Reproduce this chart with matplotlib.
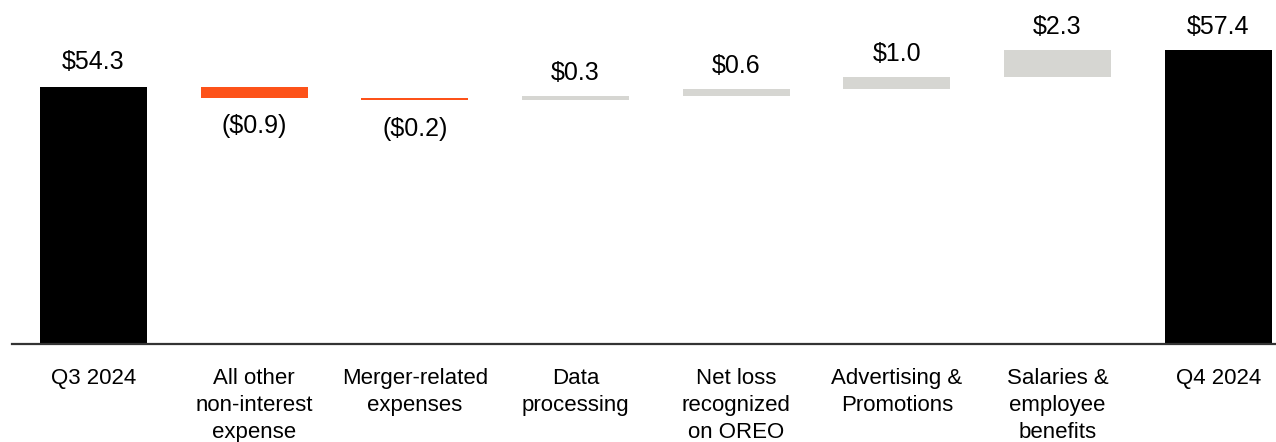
import matplotlib
matplotlib.use("Agg")
import matplotlib.pyplot as plt

plt.rcParams['font.family'] = ['Liberation Sans', 'DejaVu Sans']

categories = ["Q3 2024", "All other\nnon-interest\nexpense", "Merger-related\nexpenses",
              "Data\nprocessing", "Net loss\nrecognized\non OREO", "Advertising &\nPromotions",
              "Salaries &\nemployee\nbenefits", "Q4 2024"]
start_total = 54.3
changes = [-0.9, -0.2, 0.3, 0.6, 1.0, 2.3]
end_total = 57.4

BLACK = "#000000"
ORANGE = "#FD5219"
GRAY = "#D6D6D2"

fig = plt.figure(figsize=(12.76, 4.42), dpi=100)
ax = fig.add_axes([12 / 1276, (442 - 344) / 442, 1 - 12 / 1276, 344 / 442])

ymin, ymax = 32.7, 61.6
w = 0.666

def money(v):
    if v < 0:
        return "(${:.1f})".format(-v)
    return "${:.1f}".format(v)

# totals
ax.bar(0, start_total - ymin, bottom=ymin, width=w, color=BLACK)
ax.annotate(money(start_total), (0, start_total), xytext=(0, 9), textcoords="offset points",
            ha="center", va="bottom", fontsize=18)

level = start_total
for i, c in enumerate(changes, start=1):
    col = ORANGE if c < 0 else GRAY
    ax.bar(i, c, bottom=level, width=w, color=col)
    if c < 0:
        ax.annotate(money(c), (i, level + c), xytext=(0, -12), textcoords="offset points",
                    ha="center", va="top", fontsize=18)
    else:
        ax.annotate(money(c), (i, level + c), xytext=(0, 8), textcoords="offset points",
                    ha="center", va="bottom", fontsize=18)
    level += c

ax.bar(7, end_total - ymin, bottom=ymin, width=w, color=BLACK)
ax.annotate(money(end_total), (7, end_total), xytext=(0, 8), textcoords="offset points",
            ha="center", va="bottom", fontsize=18)

ax.set_xlim(-0.507, 7.36)
ax.set_ylim(ymin, ymax)
ax.set_xticks(range(len(categories)))
ax.set_xticklabels(categories, fontsize=16, linespacing=1.4, va="top")
ax.tick_params(axis="x", length=0, pad=17)
ax.set_yticks([])
for s in ["top", "right", "left"]:
    ax.spines[s].set_visible(False)
ax.spines["bottom"].set_color("#333333")
ax.spines["bottom"].set_linewidth(1.6)

fig.savefig("out.png", dpi=100)
